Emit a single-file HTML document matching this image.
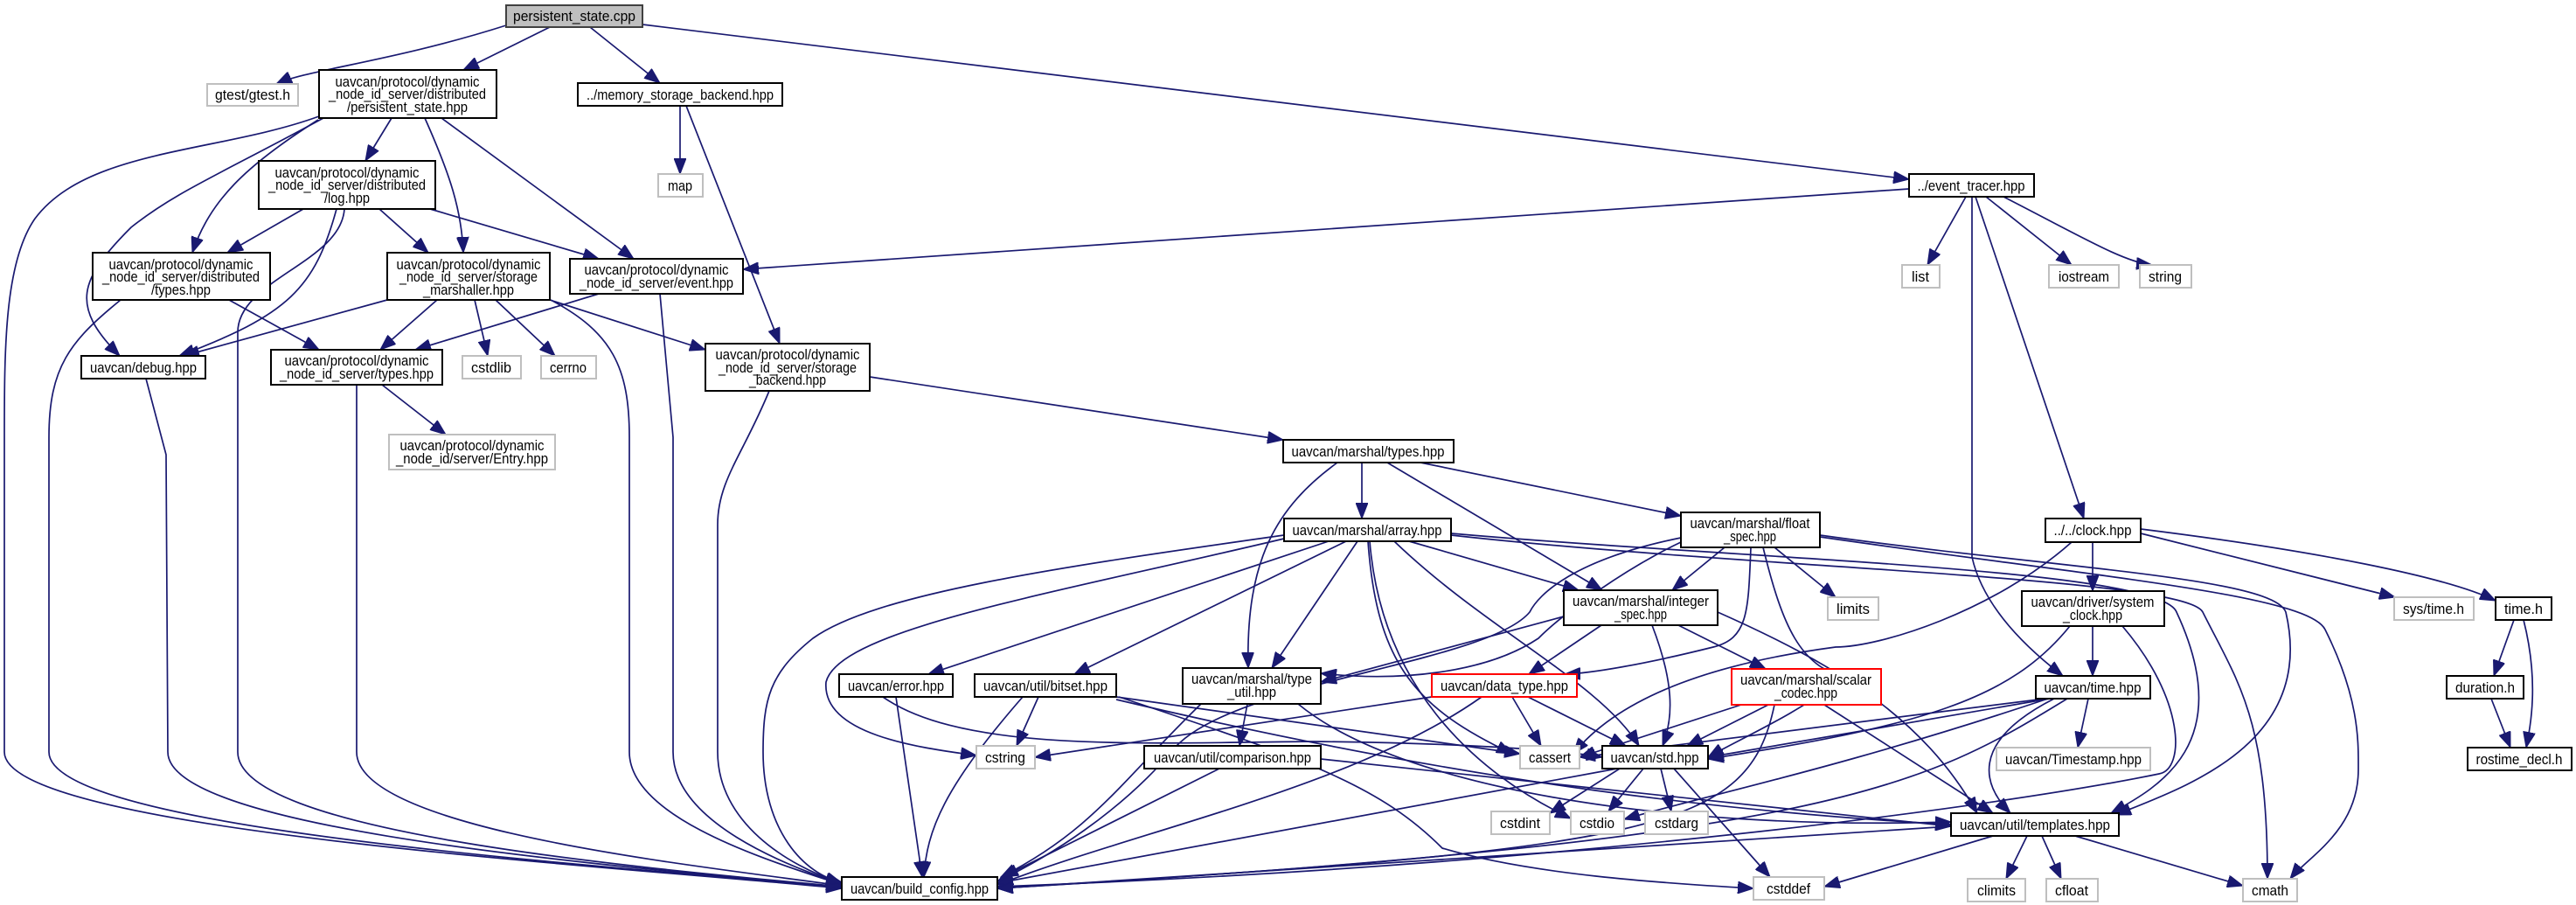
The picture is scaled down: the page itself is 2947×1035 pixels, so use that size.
<!DOCTYPE html>
<html><head><meta charset="utf-8"><style>
html,body{margin:0;padding:0;background:#fff;}
svg{display:block;}
text{font-family:"Liberation Sans",sans-serif;font-size:17px;fill:#000;text-anchor:middle;}
.n{fill:#fff;stroke:#000;stroke-width:2;}
.g{fill:#fff;stroke:#bfbfbf;stroke-width:2;}
.r{fill:#fff;stroke:#ff0000;stroke-width:2;}
.e{fill:none;stroke:#191970;stroke-width:1.7;marker-end:url(#a);}
</style></head><body>
<svg width="2947" height="1035" viewBox="0 0 2947 1035" xmlns="http://www.w3.org/2000/svg">
<defs><marker id="a" markerUnits="userSpaceOnUse" markerWidth="20" markerHeight="14" refX="18" refY="7" orient="auto"><path d="M0,0 L18,7 L0,14 z" fill="#191970" stroke="#191970"/></marker></defs>
<g>
<path class="e" d="M579,29 C450,70 350,80 316,96"/>
<path class="e" d="M629,31 L530,80"/>
<path class="e" d="M675,31 L755,95"/>
<path class="e" d="M735,28 L2184,205"/>
<path class="e" d="M365,133 C250,175 100,170 40,250 C5,300 5,400 5,500 L5,860 C5,950 700,990 963,1016"/>
<path class="e" d="M370,135 C250,200 200,220 150,260 C90,320 80,350 137,407"/>
<path class="e" d="M364,137 C280,190 240,230 220,289"/>
<path class="e" d="M448,135 L418,184"/>
<path class="e" d="M486,135 C515,200 528,240 530,289"/>
<path class="e" d="M505,135 L725,296"/>
<path class="e" d="M778,121 L778,199"/>
<path class="e" d="M785,121 L892,393"/>
<path class="e" d="M2184,216 L850,308"/>
<path class="e" d="M2249,225 L2205,303"/>
<path class="e" d="M2272,225 L2370,303"/>
<path class="e" d="M2292,225 C2380,270 2430,300 2462,303"/>
<path class="e" d="M2256,225 L2256,637 C2270,700 2330,750 2360,773"/>
<path class="e" d="M2260,225 L2384,593"/>
<path class="e" d="M347,239 L260,289"/>
<path class="e" d="M434,239 L490,289"/>
<path class="e" d="M492,239 L685,296"/>
<path class="e" d="M385,239 C360,330 330,360 205,407"/>
<path class="e" d="M394,239 C390,300 272,320 272,380 L272,860 C272,950 700,990 963,1014"/>
<path class="e" d="M262,343 L365,400"/>
<path class="e" d="M138,343 C80,390 56,420 56,500 L56,860 C56,950 700,990 963,1015"/>
<path class="e" d="M443,343 L210,407"/>
<path class="e" d="M500,343 L435,400"/>
<path class="e" d="M543,343 L558,407"/>
<path class="e" d="M567,343 L635,407"/>
<path class="e" d="M629,343 L807,400"/>
<path class="e" d="M630,343 C700,380 720,420 720,500 L720,860 C720,940 900,990 963,1012"/>
<path class="e" d="M685,336 L475,400"/>
<path class="e" d="M755,336 L770,500 L770,860 C770,940 900,990 963,1011"/>
<path class="e" d="M167,433 L190,520 L192,860 C192,950 700,990 963,1015"/>
<path class="e" d="M437,440 L510,497"/>
<path class="e" d="M408,440 L408,860 C408,950 800,990 963,1013"/>
<path class="e" d="M995,431 L1468,503"/>
<path class="e" d="M880,447 C850,520 821,550 821,600 L821,860 C821,940 900,990 963,1010"/>
<path class="e" d="M1558,529 L1558,593"/>
<path class="e" d="M1530,529 C1460,580 1425,640 1428,764"/>
<path class="e" d="M1587,529 L1833,675"/>
<path class="e" d="M1625,529 L1923,590"/>
<path class="e" d="M1469,612 C1200,650 1000,680 930,730 C880,770 873,800 873,860 C873,950 920,1000 963,1009"/>
<path class="e" d="M1469,616 C1200,680 960,720 945,780 C940,840 1050,855 1117,864"/>
<path class="e" d="M1520,619 L1062,771"/>
<path class="e" d="M1540,619 L1229,771"/>
<path class="e" d="M1553,619 L1455,764"/>
<path class="e" d="M1612,619 L1806,675"/>
<path class="e" d="M1565,619 C1575,760 1620,810 1730,862"/>
<path class="e" d="M1595,619 C1700,720 1830,780 1875,853"/>
<path class="e" d="M1567,619 C1580,780 1680,880 1797,936"/>
<path class="e" d="M1660,610 C2000,640 2470,650 2490,700 C2560,850 2470,900 2415,930"/>
<path class="e" d="M1660,612 C2000,650 2500,660 2520,700 C2560,780 2594,820 2594,1005"/>
<path class="e" d="M2082,612 C2350,650 2600,660 2615,700 C2650,850 2500,900 2420,932"/>
<path class="e" d="M2082,614 C2400,660 2640,680 2660,720 C2700,800 2698,850 2698,880 C2698,950 2640,980 2620,1005"/>
<path class="e" d="M1923,615 C1800,640 1760,680 1750,700 C1700,760 1400,780 1340,860 C1280,930 1200,980 1141,1008"/>
<path class="e" d="M1923,620 C1860,650 1790,700 1760,730 C1700,770 1600,780 1511,770"/>
<path class="e" d="M1973,626 L1913,675"/>
<path class="e" d="M2030,626 L2100,683"/>
<path class="e" d="M2003,626 C2000,700 2000,730 1960,740 C1880,760 1820,770 1790,771"/>
<path class="e" d="M2017,626 C2040,720 2060,760 2110,775 C2050,820 1990,845 1954,866"/>
<path class="e" d="M2394,620 L2394,676"/>
<path class="e" d="M2449,610 L2740,683"/>
<path class="e" d="M2449,605 C2650,630 2800,660 2855,687"/>
<path class="e" d="M2370,620 C2280,700 2150,740 2100,740 C1950,760 1850,800 1800,862"/>
<path class="e" d="M2394,716 L2394,773"/>
<path class="e" d="M2368,716 C2300,800 2200,830 1954,868"/>
<path class="e" d="M2428,716 C2500,800 2500,880 2470,885 C2300,920 1800,990 1141,1014"/>
<path class="e" d="M2345,799 L1954,866"/>
<path class="e" d="M2340,799 L1807,866"/>
<path class="e" d="M2389,799 L2377,855"/>
<path class="e" d="M2350,799 C2250,850 2270,900 2300,930"/>
<path class="e" d="M2365,799 C2200,900 2100,960 1141,1016"/>
<path class="e" d="M2343,799 C2100,880 1950,910 1858,937"/>
<path class="e" d="M2876,709 L2853,773"/>
<path class="e" d="M2887,709 C2905,780 2895,830 2890,855"/>
<path class="e" d="M2850,799 L2872,855"/>
<path class="e" d="M1789,705 L1511,780"/>
<path class="e" d="M1832,715 L1749,771"/>
<path class="e" d="M1920,715 L2020,765"/>
<path class="e" d="M1890,715 C1915,780 1915,820 1902,853"/>
<path class="e" d="M1965,700 C2100,760 2200,820 2262,930"/>
<path class="e" d="M1025,797 L1055,1003"/>
<path class="e" d="M1010,797 C1100,860 1300,850 1500,848 C1700,850 1800,860 1833,866"/>
<path class="e" d="M1188,797 L1163,853"/>
<path class="e" d="M1170,797 C1080,900 1060,950 1057,1003"/>
<path class="e" d="M1277,797 L1739,862"/>
<path class="e" d="M1280,797 C1500,870 1580,900 1650,970 C1750,1000 1900,1010 2006,1016"/>
<path class="e" d="M1277,800 C1700,900 2000,930 2232,943"/>
<path class="e" d="M1427,805 L1418,853"/>
<path class="e" d="M1374,805 C1283,893 1250,950 1145,1003"/>
<path class="e" d="M1485,805 C1600,900 1900,950 2232,940"/>
<path class="e" d="M1638,797 L1184,866"/>
<path class="e" d="M1730,797 L1763,853"/>
<path class="e" d="M1748,797 L1860,853"/>
<path class="e" d="M1695,797 C1550,900 1300,950 1141,1012"/>
<path class="e" d="M1992,806 L1807,866"/>
<path class="e" d="M2023,806 L1930,853"/>
<path class="e" d="M2087,806 L2280,930"/>
<path class="e" d="M2030,806 C2000,950 1900,970 1141,1016"/>
<path class="e" d="M1395,879 L1147,1003"/>
<path class="e" d="M1511,868 L2232,945"/>
<path class="e" d="M1853,879 L1773,930"/>
<path class="e" d="M1880,879 L1840,928"/>
<path class="e" d="M1900,879 L1912,928"/>
<path class="e" d="M1915,879 L2025,1003"/>
<path class="e" d="M1850,879 L1141,1010"/>
<path class="e" d="M2232,945 L1141,1016"/>
<path class="e" d="M2280,956 L2087,1014"/>
<path class="e" d="M2319,956 L2295,1005"/>
<path class="e" d="M2336,956 L2358,1005"/>
<path class="e" d="M2374,956 L2566,1013"/>
</g>
<g>
<rect x="579" y="6" width="156" height="25" style="fill:#bfbfbf;stroke:#404040;stroke-width:2"/><text x="657" y="24" textLength="140" lengthAdjust="spacingAndGlyphs">persistent_state.cpp</text>
<rect class="g" x="237" y="96" width="104" height="25"/><text x="289" y="114" textLength="86" lengthAdjust="spacingAndGlyphs">gtest/gtest.h</text>
<rect class="n" x="365" y="80" width="203" height="55"/><text x="466" y="99" textLength="165" lengthAdjust="spacingAndGlyphs">uavcan/protocol/dynamic</text><text x="466" y="113" textLength="180" lengthAdjust="spacingAndGlyphs">_node_id_server/distributed</text><text x="466" y="128" textLength="138" lengthAdjust="spacingAndGlyphs">/persistent_state.hpp</text>
<rect class="n" x="661" y="95" width="234" height="26"/><text x="778" y="114" textLength="214" lengthAdjust="spacingAndGlyphs">../memory_storage_backend.hpp</text>
<rect class="n" x="2184" y="199" width="143" height="26"/><text x="2255" y="218" textLength="123" lengthAdjust="spacingAndGlyphs">../event_tracer.hpp</text>
<rect class="n" x="296" y="184" width="202" height="55"/><text x="397" y="203" textLength="165" lengthAdjust="spacingAndGlyphs">uavcan/protocol/dynamic</text><text x="397" y="217" textLength="180" lengthAdjust="spacingAndGlyphs">_node_id_server/distributed</text><text x="397" y="232" textLength="52" lengthAdjust="spacingAndGlyphs">/log.hpp</text>
<rect class="g" x="753" y="199" width="51" height="26"/><text x="778" y="218" textLength="28" lengthAdjust="spacingAndGlyphs">map</text>
<rect class="g" x="2176" y="303" width="43" height="26"/><text x="2197" y="322" textLength="20" lengthAdjust="spacingAndGlyphs">list</text>
<rect class="g" x="2344" y="303" width="80" height="26"/><text x="2384" y="322" textLength="58" lengthAdjust="spacingAndGlyphs">iostream</text>
<rect class="g" x="2448" y="303" width="59" height="26"/><text x="2477" y="322" textLength="38" lengthAdjust="spacingAndGlyphs">string</text>
<rect class="n" x="106" y="289" width="203" height="54"/><text x="207" y="308" textLength="165" lengthAdjust="spacingAndGlyphs">uavcan/protocol/dynamic</text><text x="207" y="322" textLength="180" lengthAdjust="spacingAndGlyphs">_node_id_server/distributed</text><text x="207" y="337" textLength="68" lengthAdjust="spacingAndGlyphs">/types.hpp</text>
<rect class="n" x="443" y="289" width="186" height="54"/><text x="536" y="308" textLength="165" lengthAdjust="spacingAndGlyphs">uavcan/protocol/dynamic</text><text x="536" y="322" textLength="158" lengthAdjust="spacingAndGlyphs">_node_id_server/storage</text><text x="536" y="337" textLength="104" lengthAdjust="spacingAndGlyphs">_marshaller.hpp</text>
<rect class="n" x="652" y="296" width="198" height="40"/><text x="751" y="314" textLength="165" lengthAdjust="spacingAndGlyphs">uavcan/protocol/dynamic</text><text x="751" y="329" textLength="176" lengthAdjust="spacingAndGlyphs">_node_id_server/event.hpp</text>
<rect class="n" x="93" y="407" width="142" height="26"/><text x="164" y="426" textLength="122" lengthAdjust="spacingAndGlyphs">uavcan/debug.hpp</text>
<rect class="n" x="310" y="400" width="196" height="40"/><text x="408" y="418" textLength="165" lengthAdjust="spacingAndGlyphs">uavcan/protocol/dynamic</text><text x="408" y="433" textLength="176" lengthAdjust="spacingAndGlyphs">_node_id_server/types.hpp</text>
<rect class="g" x="529" y="407" width="67" height="26"/><text x="562" y="426" textLength="46" lengthAdjust="spacingAndGlyphs">cstdlib</text>
<rect class="g" x="619" y="407" width="63" height="26"/><text x="650" y="426" textLength="42" lengthAdjust="spacingAndGlyphs">cerrno</text>
<rect class="n" x="807" y="393" width="188" height="54"/><text x="901" y="411" textLength="165" lengthAdjust="spacingAndGlyphs">uavcan/protocol/dynamic</text><text x="901" y="426" textLength="158" lengthAdjust="spacingAndGlyphs">_node_id_server/storage</text><text x="901" y="440" textLength="88" lengthAdjust="spacingAndGlyphs">_backend.hpp</text>
<rect class="g" x="445" y="497" width="190" height="40"/><text x="540" y="515" textLength="165" lengthAdjust="spacingAndGlyphs">uavcan/protocol/dynamic</text><text x="540" y="530" textLength="174" lengthAdjust="spacingAndGlyphs">_node_id/server/Entry.hpp</text>
<rect class="n" x="1468" y="503" width="195" height="26"/><text x="1565" y="522" textLength="175" lengthAdjust="spacingAndGlyphs">uavcan/marshal/types.hpp</text>
<rect class="n" x="1469" y="593" width="191" height="26"/><text x="1564" y="612" textLength="171" lengthAdjust="spacingAndGlyphs">uavcan/marshal/array.hpp</text>
<rect class="n" x="1923" y="586" width="159" height="40"/><text x="2002" y="604" textLength="137" lengthAdjust="spacingAndGlyphs">uavcan/marshal/float</text><text x="2002" y="619" textLength="60" lengthAdjust="spacingAndGlyphs">_spec.hpp</text>
<rect class="n" x="2340" y="593" width="109" height="27"/><text x="2394" y="612" textLength="89" lengthAdjust="spacingAndGlyphs">../../clock.hpp</text>
<rect class="g" x="2091" y="683" width="58" height="26"/><text x="2120" y="702" textLength="38" lengthAdjust="spacingAndGlyphs">limits</text>
<rect class="n" x="2313" y="676" width="163" height="40"/><text x="2394" y="694" textLength="141" lengthAdjust="spacingAndGlyphs">uavcan/driver/system</text><text x="2394" y="709" textLength="68" lengthAdjust="spacingAndGlyphs">_clock.hpp</text>
<rect class="g" x="2739" y="683" width="91" height="26"/><text x="2784" y="702" textLength="70" lengthAdjust="spacingAndGlyphs">sys/time.h</text>
<rect class="n" x="2855" y="683" width="64" height="26"/><text x="2887" y="702" textLength="44" lengthAdjust="spacingAndGlyphs">time.h</text>
<rect class="n" x="1789" y="675" width="176" height="40"/><text x="1877" y="693" textLength="156" lengthAdjust="spacingAndGlyphs">uavcan/marshal/integer</text><text x="1877" y="708" textLength="60" lengthAdjust="spacingAndGlyphs">_spec.hpp</text>
<rect class="n" x="960" y="771" width="130" height="26"/><text x="1025" y="790" textLength="110" lengthAdjust="spacingAndGlyphs">uavcan/error.hpp</text>
<rect class="n" x="1115" y="771" width="162" height="26"/><text x="1196" y="790" textLength="142" lengthAdjust="spacingAndGlyphs">uavcan/util/bitset.hpp</text>
<rect class="n" x="1353" y="764" width="158" height="41"/><text x="1432" y="782" textLength="138" lengthAdjust="spacingAndGlyphs">uavcan/marshal/type</text><text x="1432" y="797" textLength="56" lengthAdjust="spacingAndGlyphs">_util.hpp</text>
<rect class="r" x="1638" y="771" width="166" height="26"/><text x="1721" y="790" textLength="146" lengthAdjust="spacingAndGlyphs">uavcan/data_type.hpp</text>
<rect class="r" x="1981" y="765" width="171" height="41"/><text x="2066" y="783" textLength="150" lengthAdjust="spacingAndGlyphs">uavcan/marshal/scalar</text><text x="2066" y="798" textLength="72" lengthAdjust="spacingAndGlyphs">_codec.hpp</text>
<rect class="n" x="2329" y="773" width="131" height="26"/><text x="2394" y="792" textLength="111" lengthAdjust="spacingAndGlyphs">uavcan/time.hpp</text>
<rect class="n" x="2799" y="773" width="88" height="26"/><text x="2843" y="792" textLength="68" lengthAdjust="spacingAndGlyphs">duration.h</text>
<rect class="g" x="1117" y="853" width="67" height="26"/><text x="1150" y="872" textLength="46" lengthAdjust="spacingAndGlyphs">cstring</text>
<rect class="n" x="1309" y="853" width="202" height="26"/><text x="1410" y="872" textLength="180" lengthAdjust="spacingAndGlyphs">uavcan/util/comparison.hpp</text>
<rect class="g" x="1739" y="853" width="68" height="26"/><text x="1773" y="872" textLength="48" lengthAdjust="spacingAndGlyphs">cassert</text>
<rect class="n" x="1833" y="853" width="121" height="26"/><text x="1893" y="872" textLength="101" lengthAdjust="spacingAndGlyphs">uavcan/std.hpp</text>
<rect class="g" x="2284" y="855" width="176" height="26"/><text x="2372" y="874" textLength="156" lengthAdjust="spacingAndGlyphs">uavcan/Timestamp.hpp</text>
<rect class="n" x="2823" y="855" width="119" height="26"/><text x="2882" y="874" textLength="99" lengthAdjust="spacingAndGlyphs">rostime_decl.h</text>
<rect class="g" x="1706" y="928" width="67" height="26"/><text x="1739" y="947" textLength="46" lengthAdjust="spacingAndGlyphs">cstdint</text>
<rect class="g" x="1797" y="928" width="61" height="26"/><text x="1827" y="947" textLength="40" lengthAdjust="spacingAndGlyphs">cstdio</text>
<rect class="g" x="1882" y="928" width="72" height="26"/><text x="1918" y="947" textLength="50" lengthAdjust="spacingAndGlyphs">cstdarg</text>
<rect class="n" x="2232" y="930" width="192" height="26"/><text x="2328" y="949" textLength="172" lengthAdjust="spacingAndGlyphs">uavcan/util/templates.hpp</text>
<rect class="n" x="963" y="1003" width="178" height="26"/><text x="1052" y="1022" textLength="158" lengthAdjust="spacingAndGlyphs">uavcan/build_config.hpp</text>
<rect class="g" x="2006" y="1003" width="81" height="26"/><text x="2046" y="1022" textLength="50" lengthAdjust="spacingAndGlyphs">cstddef</text>
<rect class="g" x="2251" y="1005" width="66" height="26"/><text x="2284" y="1024" textLength="44" lengthAdjust="spacingAndGlyphs">climits</text>
<rect class="g" x="2341" y="1005" width="59" height="26"/><text x="2370" y="1024" textLength="38" lengthAdjust="spacingAndGlyphs">cfloat</text>
<rect class="g" x="2566" y="1005" width="62" height="26"/><text x="2597" y="1024" textLength="42" lengthAdjust="spacingAndGlyphs">cmath</text>
</g>
</svg>
</body></html>
